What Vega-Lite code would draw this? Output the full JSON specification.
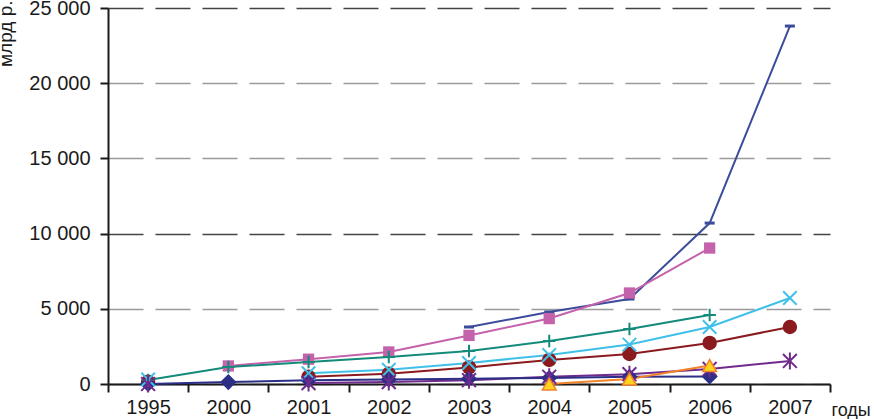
{
  "$schema": "https://vega.github.io/schema/vega-lite/v6.json",
  "width": 722,
  "height": 376,
  "autosize": {"type": "none"},
  "padding": {"left": 108, "top": 8, "right": 44, "bottom": 35},
  "background": "white",
  "config": {
    "view": {"stroke": null},
    "font": "Liberation Sans"
  },
  "data": {
    "values": [
      {"s": "A", "year": "2003", "v": 3790, "seg": 1},
      {"s": "A", "year": "2004", "v": 4790, "seg": 1},
      {"s": "A", "year": "2005", "v": 5650, "seg": 1},
      {"s": "A", "year": "2006", "v": 10700, "seg": 1},
      {"s": "A", "year": "2007", "v": 23800, "seg": 1},
      {"s": "B", "year": "2000", "v": 1200, "seg": 1},
      {"s": "B", "year": "2001", "v": 1650, "seg": 1},
      {"s": "B", "year": "2002", "v": 2130, "seg": 1},
      {"s": "B", "year": "2003", "v": 3230, "seg": 1},
      {"s": "B", "year": "2004", "v": 4350, "seg": 1},
      {"s": "B", "year": "2005", "v": 6050, "seg": 1},
      {"s": "B", "year": "2006", "v": 9040, "seg": 1},
      {"s": "C", "year": "1995", "v": 270, "seg": 1},
      {"s": "C", "year": "2000", "v": 1130, "seg": 1},
      {"s": "C", "year": "2001", "v": 1460, "seg": 1},
      {"s": "C", "year": "2002", "v": 1800, "seg": 1},
      {"s": "C", "year": "2003", "v": 2190, "seg": 1},
      {"s": "C", "year": "2004", "v": 2860, "seg": 1},
      {"s": "C", "year": "2005", "v": 3660, "seg": 1},
      {"s": "C", "year": "2006", "v": 4590, "seg": 1},
      {"s": "D", "year": "1995", "v": 300, "seg": 0},
      {"s": "D", "year": "2001", "v": 720, "seg": 1},
      {"s": "D", "year": "2002", "v": 950, "seg": 1},
      {"s": "D", "year": "2003", "v": 1400, "seg": 1},
      {"s": "D", "year": "2004", "v": 1930, "seg": 1},
      {"s": "D", "year": "2005", "v": 2620, "seg": 1},
      {"s": "D", "year": "2006", "v": 3790, "seg": 1},
      {"s": "D", "year": "2007", "v": 5720, "seg": 1},
      {"s": "E", "year": "1995", "v": 150, "seg": 0},
      {"s": "E", "year": "2001", "v": 480, "seg": 1},
      {"s": "E", "year": "2002", "v": 680, "seg": 1},
      {"s": "E", "year": "2003", "v": 1100, "seg": 1},
      {"s": "E", "year": "2004", "v": 1600, "seg": 1},
      {"s": "E", "year": "2005", "v": 2000, "seg": 1},
      {"s": "E", "year": "2006", "v": 2730, "seg": 1},
      {"s": "E", "year": "2007", "v": 3790, "seg": 1},
      {"s": "F", "year": "1995", "v": 0, "seg": 0},
      {"s": "F", "year": "2001", "v": 60, "seg": 1},
      {"s": "F", "year": "2002", "v": 130, "seg": 1},
      {"s": "F", "year": "2003", "v": 250, "seg": 1},
      {"s": "F", "year": "2004", "v": 480, "seg": 1},
      {"s": "F", "year": "2005", "v": 650, "seg": 1},
      {"s": "F", "year": "2006", "v": 1000, "seg": 1},
      {"s": "F", "year": "2007", "v": 1530, "seg": 1},
      {"s": "G", "year": "1995", "v": 0, "seg": 1},
      {"s": "G", "year": "2000", "v": 130, "seg": 1},
      {"s": "G", "year": "2001", "v": 250, "seg": 1},
      {"s": "G", "year": "2002", "v": 300, "seg": 1},
      {"s": "G", "year": "2003", "v": 350, "seg": 1},
      {"s": "G", "year": "2004", "v": 400, "seg": 1},
      {"s": "G", "year": "2005", "v": 480, "seg": 1},
      {"s": "G", "year": "2006", "v": 500, "seg": 1},
      {"s": "H", "year": "2004", "v": 0, "seg": 1},
      {"s": "H", "year": "2005", "v": 330, "seg": 1},
      {"s": "H", "year": "2006", "v": 1230, "seg": 1}
    ]
  },
  "encoding": {
    "x": {
      "field": "year",
      "type": "nominal",
      "sort": ["1995", "2000", "2001", "2002", "2003", "2004", "2005", "2006", "2007"],
      "scale": {"domain": ["1995", "2000", "2001", "2002", "2003", "2004", "2005", "2006", "2007"], "paddingInner": 0, "paddingOuter": 0},
      "axis": {
        "title": "годы",
        "titleX": 723,
        "titleY": 31,
        "titleAlign": "left",
        "titleBaseline": "alphabetic",
        "titleAngle": 0,
        "titleFont": "Liberation Sans",
        "titleFontSize": 18,
        "titleFontWeight": "normal",
        "titleColor": "#1a1a1a",
        "labelAngle": 0,
        "labelFont": "Liberation Sans",
        "labelFontSize": 20,
        "labelColor": "#1a1a1a",
        "labelPadding": 5,
        "tickBand": "extent",
        "tickColor": "#1a1a1a",
        "tickWidth": 2,
        "tickSize": 8,
        "domainColor": "#1a1a1a",
        "domainWidth": 2,
        "grid": false
      }
    },
    "y": {
      "field": "v",
      "type": "quantitative",
      "scale": {"domain": [0, 25000], "nice": false, "zero": true},
      "axis": {
        "title": "млрд р.",
        "titleX": -97,
        "titleY": -8,
        "titleAngle": -90,
        "titleAlign": "right",
        "titleBaseline": "alphabetic",
        "titleFont": "Liberation Sans",
        "titleFontSize": 19,
        "titleFontWeight": "normal",
        "titleColor": "#1a1a1a",
        "values": [0, 5000, 10000, 15000, 20000, 25000],
        "labelExpr": "replace(format(datum.value, ','), /,/g, ' ')",
        "labelFont": "Liberation Sans",
        "labelFontSize": 20,
        "labelColor": "#1a1a1a",
        "labelPadding": 10,
        "tickColor": "#1a1a1a",
        "tickWidth": 2,
        "tickSize": 8,
        "domainColor": "#1a1a1a",
        "domainWidth": 2,
        "grid": true,
        "gridDash": [35, 12],
        "gridWidth": 1.5,
        "gridColor": {"condition": {"test": "datum.value === 25000 || datum.value === 10000", "value": "#444444"}, "value": "#9a9a9a"}
      }
    }
  },
  "layer": [
    {
      "mark": {"type": "line", "strokeWidth": 2},
      "encoding": {
        "color": {
          "field": "s",
          "type": "nominal",
          "legend": null,
          "scale": {"domain": ["A", "B", "C", "D", "E", "F", "G", "H"], "range": ["#3b4c9b", "#c462ac", "#138a7a", "#40c0e8", "#8b1a1e", "#702a8c", "#2b2f86", "#f0832a"]}
        },
        "detail": {"field": "seg", "type": "nominal"}
      }
    },
    {
      "transform": [{"filter": {"field": "s", "oneOf": ["A", "B", "E", "G"]}}],
      "mark": {"type": "point", "filled": true, "opacity": 1, "strokeWidth": 0},
      "encoding": {
        "color": {
          "field": "s",
          "type": "nominal",
          "legend": null,
          "scale": {"domain": ["A", "B", "C", "D", "E", "F", "G", "H"], "range": ["#3b4c9b", "#c455a8", "#138a7a", "#40c0e8", "#8b1a1e", "#702a8c", "#2b2f86", "#f0832a"]}
        },
        "shape": {
          "field": "s",
          "type": "nominal",
          "legend": null,
          "scale": {"domain": ["A", "B", "C", "D", "E", "F", "G", "H"], "range": ["M-1,-0.3H1V0.3H-1Z", "square", "M-1,0H1M0,-1V1", "M-1,-1L1,1M-1,1L1,-1", "circle", "M-0.9,-0.9L0.9,0.9M-0.9,0.9L0.9,-0.9M0,-1.1V1.1", "diamond", "triangle-up"]}
        },
        "size": {
          "field": "s",
          "type": "nominal",
          "legend": null,
          "scale": {"domain": ["A", "B", "C", "D", "E", "F", "G", "H"], "range": [100, 290, 324, 225, 270, 225, 210, 190]}
        }
      }
    },
    {
      "transform": [{"filter": {"field": "s", "oneOf": ["C", "D", "F"]}}],
      "mark": {"type": "point", "filled": false, "opacity": 1, "strokeWidth": 2},
      "encoding": {
        "color": {
          "field": "s",
          "type": "nominal",
          "legend": null,
          "scale": {"domain": ["A", "B", "C", "D", "E", "F", "G", "H"], "range": ["#3b4c9b", "#c455a8", "#138a7a", "#40c0e8", "#8b1a1e", "#702a8c", "#2b2f86", "#f0832a"]}
        },
        "shape": {
          "field": "s",
          "type": "nominal",
          "legend": null,
          "scale": {"domain": ["A", "B", "C", "D", "E", "F", "G", "H"], "range": ["M-1,-0.3H1V0.3H-1Z", "square", "M-1,0H1M0,-1V1", "M-1,-1L1,1M-1,1L1,-1", "circle", "M-0.9,-0.9L0.9,0.9M-0.9,0.9L0.9,-0.9M0,-1.1V1.1", "diamond", "triangle-up"]}
        },
        "size": {
          "field": "s",
          "type": "nominal",
          "legend": null,
          "scale": {"domain": ["A", "B", "C", "D", "E", "F", "G", "H"], "range": [100, 290, 324, 225, 270, 225, 210, 190]}
        }
      }
    },
    {
      "transform": [{"filter": {"field": "s", "equal": "H"}}],
      "mark": {"type": "point", "shape": "triangle-up", "filled": true, "fill": "#ffd21f", "stroke": "#f0832a", "strokeWidth": 1.5, "opacity": 1, "size": 190},
      "encoding": {}
    }
  ]
}
